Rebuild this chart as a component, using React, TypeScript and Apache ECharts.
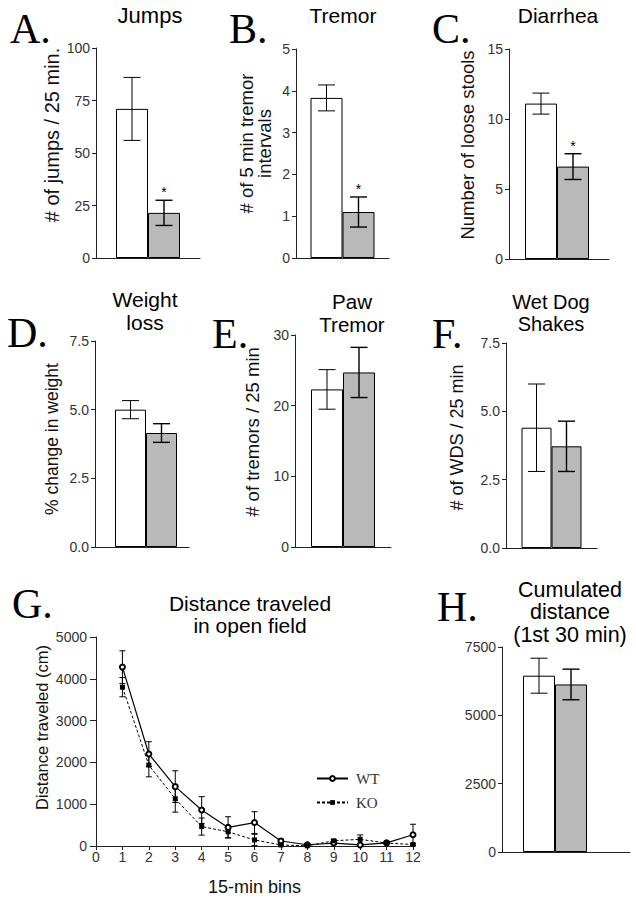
import React, { useEffect, useRef } from 'react';
import * as echarts from 'echarts';

// ---------- data ----------
const groups = ['WT', 'KO'];

const jumpsMean = [71, 21.5];
const jumpsErr = [15, 6];
const jumpsSig = [false, true];

const tremorMean = [3.83, 1.1];
const tremorErr = [0.31, 0.36];
const tremorSig = [false, true];

const diarrheaMean = [11.1, 6.6];
const diarrheaErr = [0.75, 0.92];
const diarrheaSig = [false, true];

const weightMean = [5.0, 4.15];
const weightErr = [0.33, 0.34];
const weightSig = [false, false];

const pawMean = [22.3, 24.7];
const pawErr = [2.8, 3.55];
const pawSig = [false, false];

const wdsMean = [4.4, 3.72];
const wdsErr = [1.6, 0.92];
const wdsSig = [false, false];

const cumMean = [6450, 6130];
const cumErr = [640, 560];
const cumSig = [false, false];

const bins = [1, 2, 3, 4, 5, 6, 7, 8, 9, 10, 11, 12];
const wtDist = [4280, 2200, 1420, 860, 445, 560, 120, 30, 70, 25, 75, 270];
const wtDistErr = [390, 295, 380, 320, 255, 260, 50, 20, 30, 20, 20, 250];
const koDist = [3800, 1935, 1130, 465, 340, 145, 25, 5, 125, 160, 70, 35];
const koDistErr = [230, 280, 320, 205, 140, 135, 20, 10, 30, 105, 20, 20];

// ---------- style ----------
const SANS = '"Liberation Sans", Arial, Helvetica, sans-serif';
const SERIF = '"Liberation Serif", "Times New Roman", serif';
const AX = '#222';
const GRAY = '#b9b9b9';

type Panel = {
  id: string;
  left: number; top: number; width: number; height: number;
  min: number; max: number; interval: number; decimals: boolean;
  name: string; nameGap: number; nameShift: number; nameSize: number;
  means: number[]; errs: number[]; sig: boolean[];
  bw: number; spL: number; spR: number;
};

const panels: Panel[] = [
  { id: 'A', left: 96, top: 48, width: 104, height: 210, min: 0, max: 100, interval: 25, decimals: false,
    name: '# of jumps / 25 min.', nameGap: 34, nameShift: 18, nameSize: 20, means: jumpsMean, errs: jumpsErr, sig: jumpsSig, bw: 32, spL: 0, spR: 0 },
  { id: 'B', left: 296, top: 49, width: 93, height: 209, min: 0, max: 5, interval: 1, decimals: false,
    name: '# of 5 min tremor\nintervals', nameGap: 22, nameShift: 10, nameSize: 18.5, means: tremorMean, errs: tremorErr, sig: tremorSig, bw: 32, spL: 0, spR: 0 },
  { id: 'C', left: 509, top: 49, width: 100, height: 210, min: 0, max: 15, interval: 5, decimals: false,
    name: 'Number of loose stools', nameGap: 32, nameShift: 9, nameSize: 18.5, means: diarrheaMean, errs: diarrheaErr, sig: diarrheaSig, bw: 32, spL: 0, spR: 4 },
  { id: 'D', left: 95, top: 341, width: 94, height: 206, min: 0, max: 7.5, interval: 2.5, decimals: true,
    name: '% change in weight', nameGap: 34, nameShift: 5, nameSize: 17.5, means: weightMean, errs: weightErr, sig: weightSig, bw: 31, spL: 8, spR: 0 },
  { id: 'E', left: 295, top: 335, width: 96, height: 212, min: 0, max: 30, interval: 10, decimals: false,
    name: '# of tremors / 25 min', nameGap: 33, nameShift: 9, nameSize: 18.5, means: pawMean, errs: pawErr, sig: pawSig, bw: 32, spL: 0, spR: 0 },
  { id: 'F', left: 506, top: 343, width: 91, height: 205, min: 0, max: 7.5, interval: 2.5, decimals: true,
    name: '# of WDS / 25 min', nameGap: 40, nameShift: 8, nameSize: 18, means: wdsMean, errs: wdsErr, sig: wdsSig, bw: 30, spL: 0, spR: 0 },
  { id: 'H', left: 502, top: 647, width: 128, height: 205, min: 0, max: 7500, interval: 2500, decimals: false,
    name: '', nameGap: 30, nameShift: 0, nameSize: 18, means: cumMean, errs: cumErr, sig: cumSig, bw: 32, spL: 0, spR: 22 },
];

const letters = [
  { t: 'A.', x: 10, y: 29 }, { t: 'B.', x: 229, y: 29 }, { t: 'C.', x: 432, y: 29 },
  { t: 'D.', x: 7, y: 333 }, { t: 'E.', x: 212, y: 334 }, { t: 'F.', x: 432, y: 334 },
  { t: 'G.', x: 12, y: 604 }, { t: 'H.', x: 437, y: 607 },
];

const titles = [
  { t: 'Jumps', x: 150, y: 15, lh: 22, fs: 22 },
  { t: 'Tremor', x: 343, y: 15, lh: 22, fs: 21 },
  { t: 'Diarrhea', x: 558, y: 15, lh: 22, fs: 21 },
  { t: 'Weight\nloss', x: 145, y: 311, lh: 23, fs: 21 },
  { t: 'Paw\nTremor', x: 352, y: 313, lh: 23, fs: 20.5 },
  { t: 'Wet Dog\nShakes', x: 551, y: 313, lh: 22, fs: 20 },
  { t: 'Distance traveled\nin open field', x: 250, y: 614, lh: 22, fs: 21 },
  { t: 'Cumulated\ndistance\n(1st 30 min)', x: 570, y: 612, lh: 22.5, fs: 21.5 },
];

function lineEl(x1: number, y1: number, x2: number, y2: number, w = 1) {
  return { type: 'line', shape: { x1, y1, x2, y2 }, style: { stroke: '#000', lineWidth: w } };
}

function buildOption() {
  const grid: any[] = [];
  const xAxis: any[] = [];
  const yAxis: any[] = [];
  const series: any[] = [];

  const yAxisBase = (i: number, p: { min: number; max: number; interval: number; decimals: boolean; name: string; nameGap: number; nameShift: number; nameSize: number }, tickLen: number, margin: number) => ({
    gridIndex: i, type: 'value', min: p.min, max: p.max, interval: p.interval,
    axisLine: { show: true, lineStyle: { color: AX, width: 1 } },
    axisTick: { show: true, length: tickLen, lineStyle: { color: AX, width: 1 } },
    axisLabel: { fontSize: 14, color: '#333', margin, fontFamily: SANS,
      formatter: (v: number) => (p.decimals ? v.toFixed(1) : String(v)) },
    splitLine: { show: false },
    name: p.name, nameLocation: 'middle', nameRotate: 90, nameGap: p.nameGap,
    nameTextStyle: { fontSize: p.nameSize, fontFamily: SANS, color: '#111', lineHeight: p.nameSize,
      padding: [0, 0, 0, 2 * p.nameShift] },
  });

  panels.forEach((p, i) => {
    grid.push({ left: p.left, top: p.top, width: p.width, height: p.height });
    xAxis.push({ gridIndex: i, type: 'category', data: [''],
      axisLine: { show: true, lineStyle: { color: AX, width: 1 } },
      axisTick: { show: false }, axisLabel: { show: false } });
    yAxis.push(yAxisBase(i, p, 4, 6));

    const total = p.spL + 2 * p.bw + p.spR;
    const start = -total / 2;
    const offs = [start + p.spL + p.bw / 2, start + p.spL + p.bw + p.bw / 2];

    const spacer = (w: number, n: string) => ({
      name: n, type: 'bar', xAxisIndex: i, yAxisIndex: i, data: [0], barWidth: w, barGap: '0%',
      silent: true, itemStyle: { color: 'rgba(0,0,0,0)', borderWidth: 0, opacity: 0 },
    });
    if (p.spL) series.push(spacer(p.spL, p.id + '-padL'));
    series.push({ name: p.id + ' ' + groups[0], type: 'bar', xAxisIndex: i, yAxisIndex: i, data: [p.means[0]],
      barWidth: p.bw, barGap: '0%', itemStyle: { color: '#fff', borderColor: '#000', borderWidth: 1 } });
    series.push({ name: p.id + ' ' + groups[1], type: 'bar', xAxisIndex: i, yAxisIndex: i, data: [p.means[1]],
      barWidth: p.bw, barGap: '0%', itemStyle: { color: GRAY, borderColor: '#000', borderWidth: 1 } });
    if (p.spR) series.push(spacer(p.spR, p.id + '-padR'));

    series.push({
      name: p.id + ' error', type: 'custom', xAxisIndex: i, yAxisIndex: i, z: 5, silent: true,
      data: p.means.map((m, g) => [0, m, p.errs[g], g, p.sig[g] ? 1 : 0]),
      renderItem: (params: any, api: any) => {
        const m = api.value(1), e = api.value(2), g = api.value(3), s = api.value(4);
        const c = api.coord([0, m]);
        const x = c[0] + offs[g];
        const yl = api.coord([0, m - e])[1];
        const yh = api.coord([0, m + e])[1];
        const hw = 8.5;
        const w = g === 1 ? 1.4 : 1;
        const children: any[] = [
          lineEl(x, yl, x, yh, w), lineEl(x - hw, yh, x + hw, yh, w), lineEl(x - hw, yl, x + hw, yl, w),
        ];
        if (s) children.push({ type: 'text', x, y: yh - 8,
          style: { text: '*', fill: '#000', font: '14px ' + SANS, align: 'center', verticalAlign: 'middle',
            textAlign: 'center', textVerticalAlign: 'middle' } });
        return { type: 'group', children };
      },
    });
  });

  // Panel G: distance traveled line chart
  const gi = panels.length;
  grid.push({ left: 96, top: 637, width: 317, height: 209 });
  xAxis.push({ gridIndex: gi, type: 'value', min: 0, max: 12, interval: 1,
    axisLine: { show: true, lineStyle: { color: AX, width: 1 } },
    axisTick: { show: true, length: 4, lineStyle: { color: AX, width: 1 } },
    axisLabel: { fontSize: 14, color: '#333', margin: 4, fontFamily: SANS },
    splitLine: { show: false },
    name: '15-min bins', nameLocation: 'middle', nameGap: 32,
    nameTextStyle: { fontSize: 18, fontFamily: SANS, color: '#111' } });
  yAxis.push(yAxisBase(gi, { min: 0, max: 5000, interval: 1000, decimals: false,
    name: 'Distance traveled (cm)', nameGap: 46, nameShift: 14, nameSize: 16.5 }, 6, 9));

  const errSeries = (name: string, means: number[], errs: number[], lw: number) => ({
    name, type: 'custom', xAxisIndex: gi, yAxisIndex: gi, z: 1, silent: true,
    data: bins.map((b, k) => [b, means[k], errs[k]]),
    renderItem: (params: any, api: any) => {
      const b = api.value(0), m = api.value(1), e = api.value(2);
      const lo = Math.max(0, m - e);
      const p1 = api.coord([b, lo]);
      const p2 = api.coord([b, m + e]);
      const hw = 3;
      return { type: 'group', children: [
        lineEl(p1[0], p1[1], p2[0], p2[1], lw), lineEl(p2[0] - hw, p2[1], p2[0] + hw, p2[1], lw),
        lineEl(p1[0] - hw, p1[1], p1[0] + hw, p1[1], lw),
      ] };
    },
  });
  series.push(errSeries('WT error', wtDist, wtDistErr, 1));
  series.push(errSeries('KO error', koDist, koDistErr, 1));
  series.push({ name: 'WT', type: 'line', xAxisIndex: gi, yAxisIndex: gi, z: 3,
    data: bins.map((b, k) => [b, wtDist[k]]), symbol: 'emptyCircle', symbolSize: 5,
    itemStyle: { color: '#000', borderWidth: 1 }, lineStyle: { color: '#000', width: 1.2 } });
  series.push({ name: 'KO', type: 'line', xAxisIndex: gi, yAxisIndex: gi, z: 3,
    data: bins.map((b, k) => [b, koDist[k]]), symbol: 'rect', symbolSize: 5,
    itemStyle: { color: '#000' }, lineStyle: { color: '#000', width: 1, type: [3, 2] } });

  const graphic: any[] = [];
  letters.forEach((l) => graphic.push({ type: 'text', x: l.x, y: l.y, silent: true,
    style: { text: l.t, fill: '#000', font: '42px ' + SERIF, align: 'left', verticalAlign: 'middle',
      textAlign: 'left', textVerticalAlign: 'middle' } }));
  titles.forEach((t) => graphic.push({ type: 'text', x: t.x, y: t.y, silent: true,
    style: { text: t.t, fill: '#000', font: t.fs + 'px ' + SANS, lineHeight: t.lh, align: 'center', verticalAlign: 'middle',
      textAlign: 'center', textVerticalAlign: 'middle' } }));

  return {
    animation: false,
    backgroundColor: '#fff',
    grid, xAxis, yAxis, series, graphic,
    legend: {
      data: ['WT', 'KO'], orient: 'vertical', left: 311, top: 766, itemWidth: 31, itemHeight: 6, itemGap: 9,
      selectedMode: false,
      textStyle: { fontFamily: SERIF, fontSize: 15, color: '#333', padding: [0, 0, 0, 3] },
    },
  };
}

export default function App() {
  const ref = useRef<HTMLDivElement>(null);
  useEffect(() => {
    const chart = echarts.init(ref.current as HTMLDivElement, null, { renderer: 'svg' });
    chart.setOption(buildOption() as any);
    return () => chart.dispose();
  }, []);
  return (
    <div ref={ref}
      style={{ position: 'fixed', left: 0, top: 0, width: 636, height: 899, background: '#fff' }} />
  );
}
